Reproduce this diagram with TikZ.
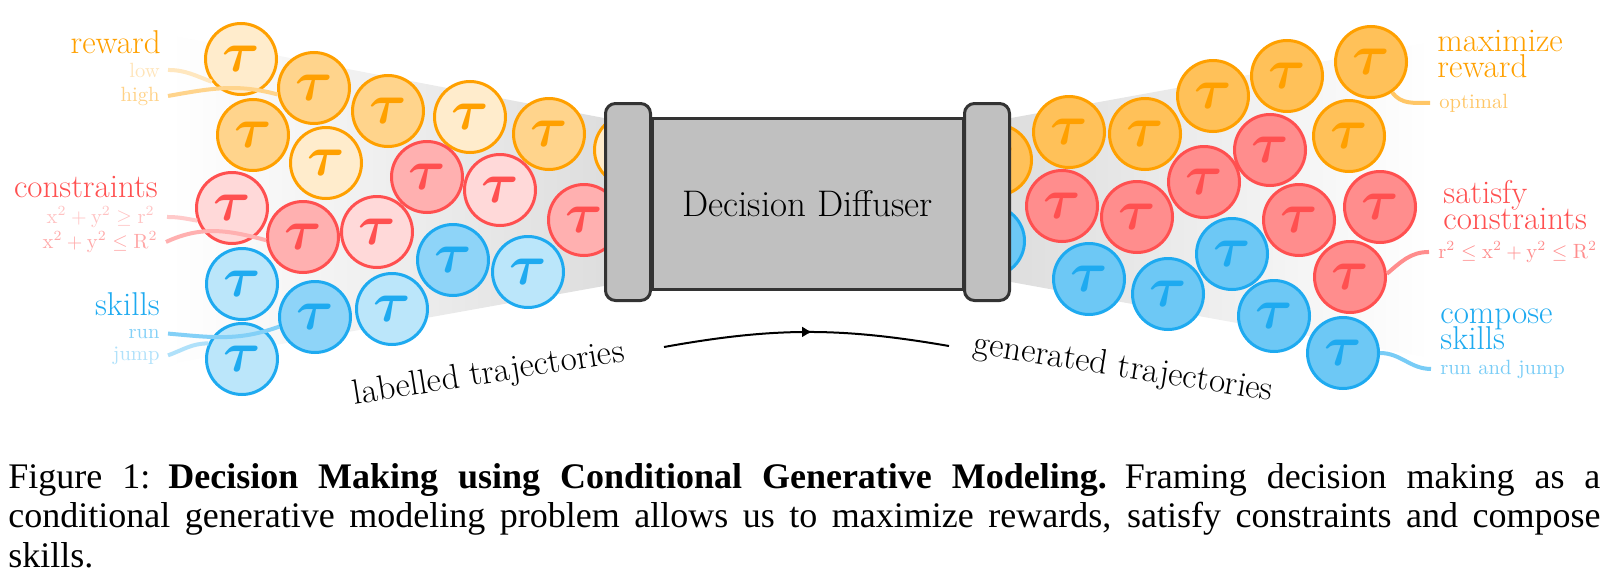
\documentclass[tikz,border=0pt]{standalone}
\usepackage{xcolor}
\usepackage{amsmath,amssymb}
\usepackage{graphicx}
\usepackage{fontspec}
\newfontfamily\capfont{Liberation Serif}
\usepackage{tikz}
\usetikzlibrary{arrows.meta,decorations.markings}

\definecolor{tauOrange}{RGB}{255,160,0}
\definecolor{tauRed}{RGB}{255,80,80}
\definecolor{tauBlue}{RGB}{30,170,240}
\definecolor{boxGray}{RGB}{192,192,192}
\definecolor{boxEdge}{RGB}{51,51,51}
\newcommand{\tauSym}{\scalebox{1.15}{$\boldsymbol{\tau}$}}

\begin{document}
\begin{tikzpicture}[x=0.5pt, y=0.5pt,
	tau/.style={circle, draw, line width=1.5pt, minimum size=35.5pt, inner sep=0, font=\fontsize{24.88}{25}\selectfont},
	tauO1/.style={tau, draw=tauOrange, fill=tauOrange!20, text=tauOrange},
	tauO2/.style={tau, draw=tauOrange, fill=tauOrange!45, text=tauOrange},
	tauO3/.style={tau, draw=tauOrange, fill=tauOrange!65, text=tauOrange},
	tauR1/.style={tau, draw=tauRed, fill=tauRed!22, text=tauRed},
	tauR2/.style={tau, draw=tauRed, fill=tauRed!45, text=tauRed},
	tauR3/.style={tau, draw=tauRed, fill=tauRed!65, text=tauRed},
	tauB1/.style={tau, draw=tauBlue, fill=tauBlue!30, text=tauBlue},
	tauB2/.style={tau, draw=tauBlue, fill=tauBlue!50, text=tauBlue},
	tauB3/.style={tau, draw=tauBlue, fill=tauBlue!65, text=tauBlue},
	bigLabel/.style={inner sep=0, font=\fontsize{16.5}{13}\selectfont, execute at begin node={\lineskiplimit=-20pt}},
	smallLabel/.style={inner sep=0, font=\fontsize{10.3}{12}\selectfont},
	labelWire/.style={line width=2pt},
	capBox/.style={draw=boxEdge, fill=boxGray, line width=1.5pt, rounded corners=5pt, minimum width=22.5pt, minimum height=98.5pt, inner sep=0}]
	\useasboundingbox (0,0) rectangle (1610,-573);
	% Funnels:
	\shade[left color=white, right color=black!13] (170,-35) -- (604,-118) -- (604,-286) -- (170,-364) -- cycle;
	\shade[left color=black!13, right color=white] (1011,-118) -- (1430,-42) -- (1430,-358) -- (1011,-282) -- cycle;
	% Labelled trajectories:
	\node[tauO1] (TauL1) at (241,-59) {\tauSym};
	\node[tauO2] (TauL2) at (314,-88) {\tauSym};
	\node[tauO2] (TauL3) at (253,-135) {\tauSym};
	\node[tauO1] (TauL4) at (326,-163) {\tauSym};
	\node[tauO2] (TauL5) at (388,-111) {\tauSym};
	\node[tauO1] (TauL6) at (470,-117) {\tauSym};
	\node[tauO2] (TauL7) at (549,-134) {\tauSym};
	\node[tauO1] (TauL8) at (630,-150) {\tauSym};
	\node[tauR1] (TauL9) at (232,-208) {\tauSym};
	\node[tauR2] (TauL10) at (303,-237) {\tauSym};
	\node[tauR1] (TauL11) at (377,-232) {\tauSym};
	\node[tauR2] (TauL12) at (427,-177) {\tauSym};
	\node[tauR1] (TauL13) at (500,-190) {\tauSym};
	\node[tauR2] (TauL14) at (584,-220) {\tauSym};
	\node[tauB1] (TauL15) at (242,-284) {\tauSym};
	\node[tauB2] (TauL16) at (315,-317) {\tauSym};
	\node[tauB1] (TauL17) at (242,-359) {\tauSym};
	\node[tauB1] (TauL18) at (392,-309) {\tauSym};
	\node[tauB2] (TauL19) at (453,-260) {\tauSym};
	\node[tauB1] (TauL20) at (528,-272) {\tauSym};
	% Generated trajectories:
	\node[tauO3] (TauR1) at (996,-160) {\tauSym};
	\node[tauO3] (TauR2) at (1069,-132) {\tauSym};
	\node[tauO3] (TauR3) at (1145,-134) {\tauSym};
	\node[tauO3] (TauR4) at (1213,-96) {\tauSym};
	\node[tauO3] (TauR5) at (1287,-76) {\tauSym};
	\node[tauO3] (TauR6) at (1371,-62) {\tauSym};
	\node[tauO3] (TauR7) at (1349,-136) {\tauSym};
	\node[tauR3] (TauR8) at (1062,-206) {\tauSym};
	\node[tauR3] (TauR9) at (1137,-217) {\tauSym};
	\node[tauR3] (TauR10) at (1204,-182) {\tauSym};
	\node[tauR3] (TauR11) at (1270,-150) {\tauSym};
	\node[tauR3] (TauR12) at (1299,-220) {\tauSym};
	\node[tauR3] (TauR13) at (1380,-207) {\tauSym};
	\node[tauR3] (TauR14) at (1350,-277) {\tauSym};
	\node[tauB3] (TauR15) at (989,-241) {\tauSym};
	\node[tauB3] (TauR16) at (1089,-279) {\tauSym};
	\node[tauB3] (TauR17) at (1168,-294) {\tauSym};
	\node[tauB3] (TauR18) at (1232,-254) {\tauSym};
	\node[tauB3] (TauR19) at (1274,-316) {\tauSym};
	\node[tauB3] (TauR20) at (1343,-353) {\tauSym};
	% Diffuser:
	\node[draw=boxEdge, fill=boxGray, line width=1.5pt, minimum width=155.5pt, minimum height=85.5pt, inner sep=0, font=\fontsize{18.5}{18.5}\selectfont] (Diffuser) at (807.5,-204) {Decision Diffuser};
	\node[capBox] (CapLeft) at (628,-202) {};
	\node[capBox] (CapRight) at (987,-202) {};
	% Labels:
	\node[bigLabel, text=tauOrange, anchor=base east] (LabReward) at (161,-54) {reward};
	\node[smallLabel, text=tauOrange!28, anchor=base east] (LabLow) at (160,-77) {low};
	\node[smallLabel, text=tauOrange!48, anchor=base east] (LabHigh) at (160,-101) {high};
	\node[bigLabel, text=tauRed, anchor=base east] (LabConstr) at (158,-197) {constraints};
	\node[smallLabel, text=tauRed!35, anchor=base east] (LabGeq) at (155,-223) {$\mathrm{x}^2 + \mathrm{y}^2 \geq \mathrm{r}^2$};
	\node[smallLabel, text=tauRed!50, anchor=base east] (LabLeq) at (158,-248) {$\mathrm{x}^2 + \mathrm{y}^2 \leq \mathrm{R}^2$};
	\node[bigLabel, text=tauBlue, anchor=base east] (LabSkills) at (160,-315) {skills};
	\node[smallLabel, text=tauBlue!55, anchor=base east] (LabRun) at (160,-338) {run};
	\node[smallLabel, text=tauBlue!35, anchor=base east] (LabJump) at (160,-360) {jump};
	\node[bigLabel, align=left, text=tauOrange, anchor=north west] (LabMaxReward) at (1437,-30) {maximize\\reward};
	\node[smallLabel, text=tauOrange!60, anchor=base west] (LabOptimal) at (1439,-108) {optimal};
	\node[bigLabel, align=left, text=tauRed, anchor=north west] (LabSatisfy) at (1443,-180) {satisfy\\constraints};
	\node[smallLabel, text=tauRed!65, anchor=base west] (LabRange) at (1438,-258) {$\mathrm{r}^2 \leq \mathrm{x}^2 + \mathrm{y}^2 \leq \mathrm{R}^2$};
	\node[bigLabel, align=left, text=tauBlue, anchor=north west] (LabCompose) at (1440,-309) {compose\\skills};
	\node[smallLabel, text=tauBlue!60, anchor=base west] (LabRunJump) at (1440,-374) {run and jump};
	\node[rotate=9, anchor=base, font=\fontsize{17.5}{17.5}\selectfont] (LabLabelled) at (490,-383) {labelled trajectories};
	\node[rotate=-9, anchor=base, font=\fontsize{17.5}{17.5}\selectfont] (LabGenerated) at (1122,-377) {generated trajectories};
	% Wires:
	\draw[labelWire, tauOrange!25] ([xshift=4pt]LabLow.east) to[out=0, in=160] (TauL1.218);
	\draw[labelWire, tauOrange!45] ([xshift=4pt]LabHigh.east) to[out=10, in=165] (TauL2.190);
	\draw[labelWire, tauRed!30] ([xshift=6pt]LabGeq.east) to[out=0, in=170] (TauL9.200);
	\draw[labelWire, tauRed!45] ([xshift=4pt]LabLeq.east) to[out=25, in=165] (TauL10.185);
	\draw[labelWire, tauBlue!55] ([xshift=4pt]LabRun.east) to[out=-5, in=200] (TauL16.195);
	\draw[labelWire, tauBlue!35] ([xshift=4pt]LabJump.east) to[out=20, in=180] (TauL17.155);
	\draw[labelWire, tauOrange!60] (TauR6.-55) to[out=-55, in=180] ([xshift=-4.5pt]LabOptimal.west);
	\draw[labelWire, tauRed!65] (TauR14.5) to[out=40, in=180] ([xshift=-4.5pt]LabRange.west);
	\draw[labelWire, tauBlue!60] (TauR20.0) to[out=0, in=180] ([xshift=-4.5pt]LabRunJump.west);
	% Arrow:
	\coordinate (ArrowStart) at (664,-347);
	\coordinate (ArrowEnd) at (949,-346);
	\draw[line width=1pt, postaction={decorate}, decoration={markings, mark=at position 0.52 with {\arrow{Latex[length=5pt, width=5.5pt]}}}] (ArrowStart) to[bend left=10] (ArrowEnd);
	% Caption:
	\node[anchor=north west, inner sep=0, text width=796pt, align=justify, font=\capfont\fontsize{18}{19.75}\selectfont] (Caption) at (8,-463) {Figure 1:\enspace\textbf{Decision Making using Conditional Generative Modeling.}\enspace Framing decision making as a\linebreak conditional generative modeling problem allows us to maximize rewards, satisfy constraints and compose\linebreak skills.};
\end{tikzpicture}
\end{document}
